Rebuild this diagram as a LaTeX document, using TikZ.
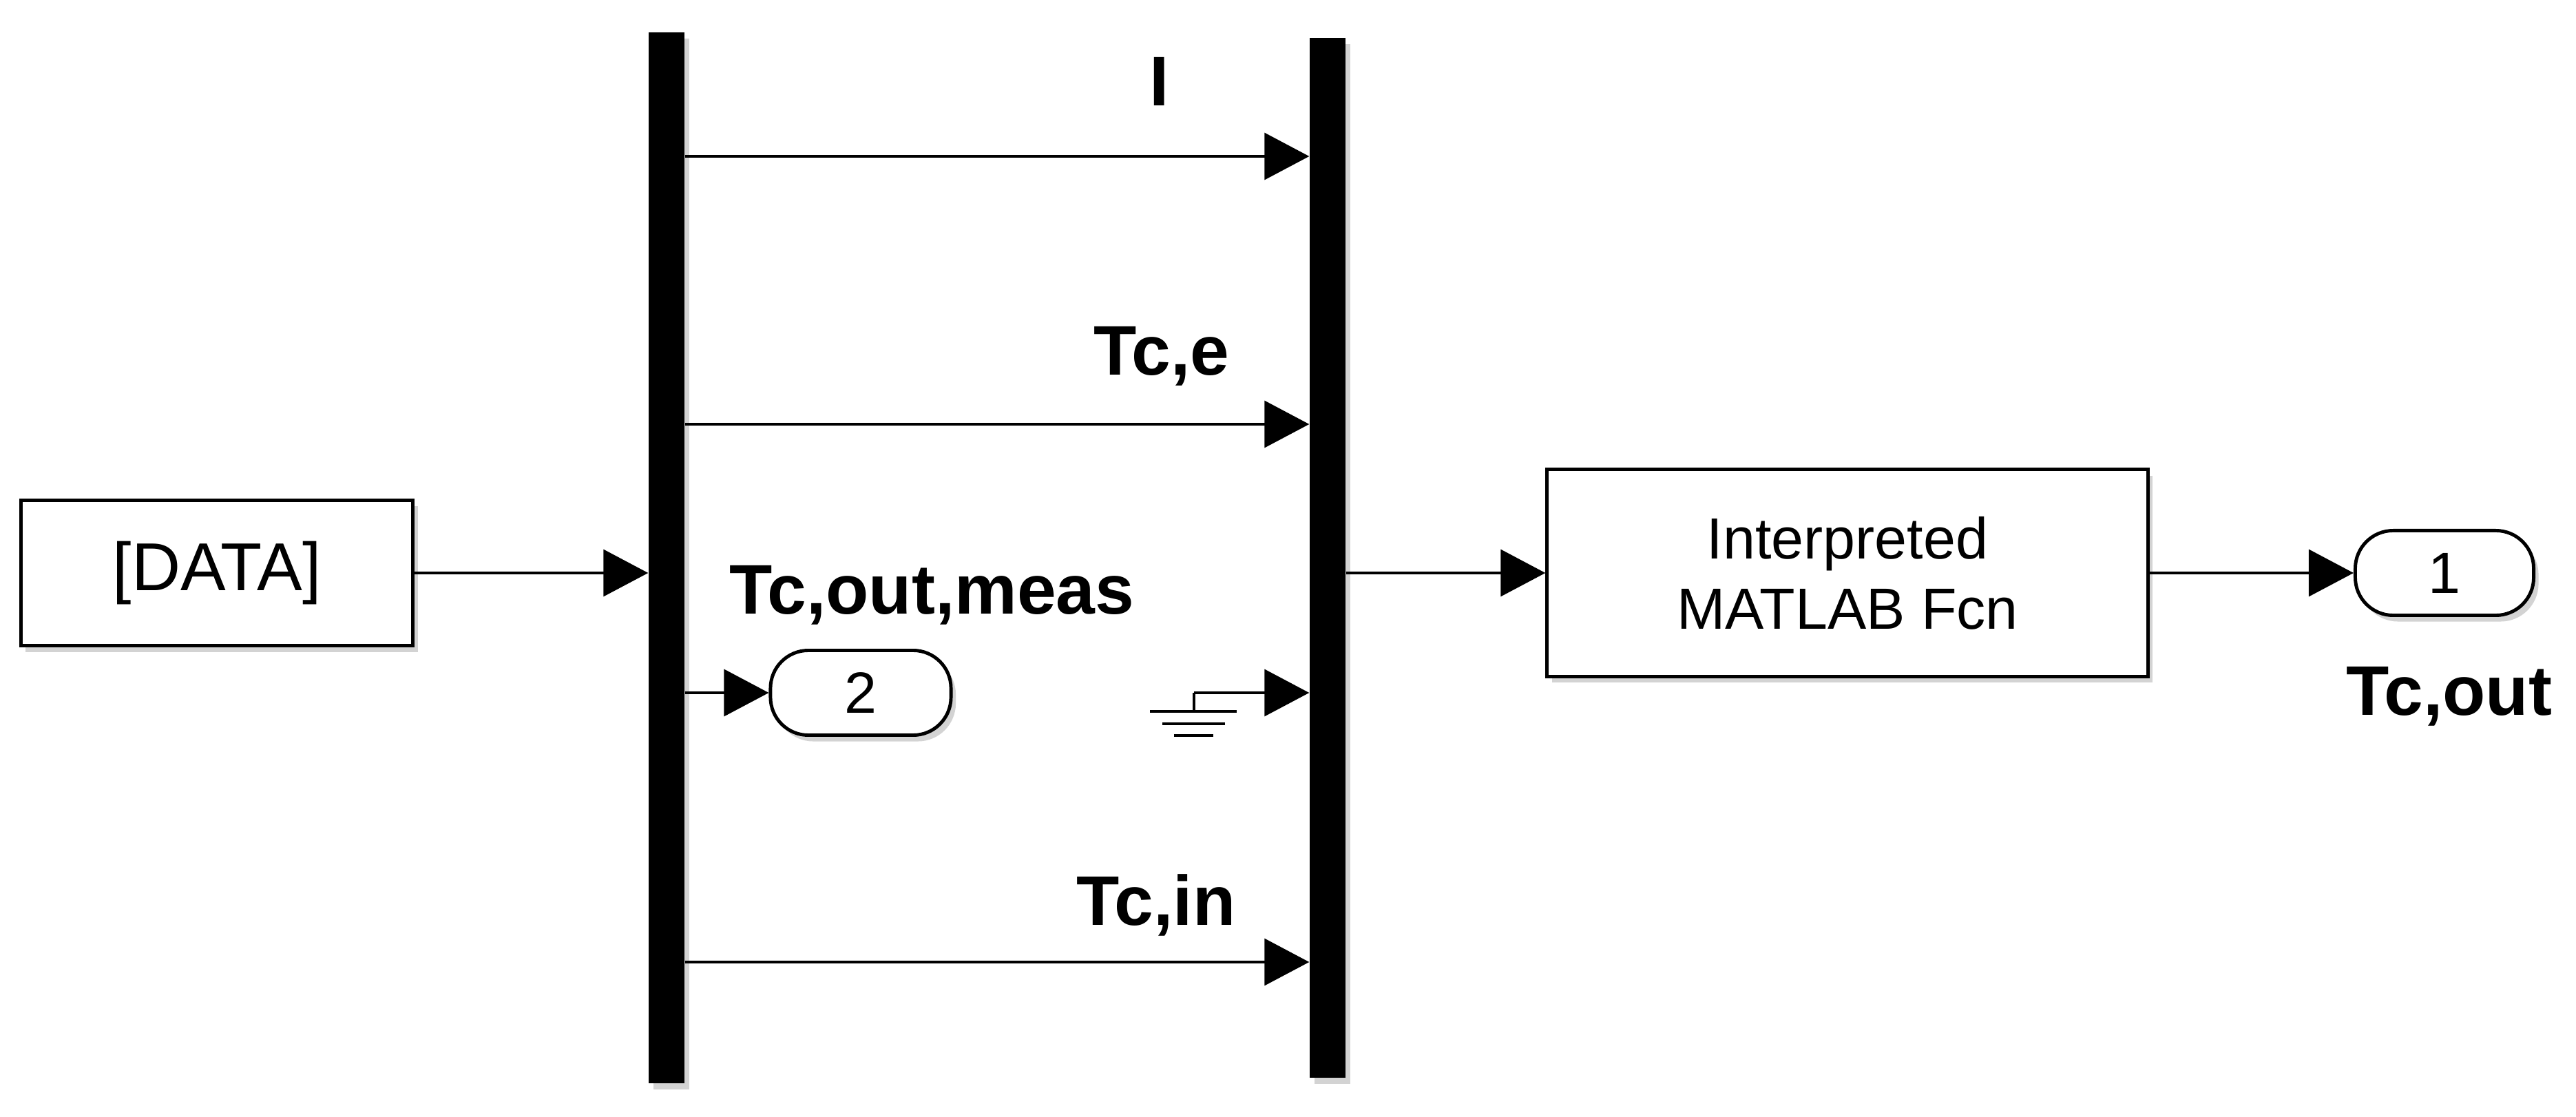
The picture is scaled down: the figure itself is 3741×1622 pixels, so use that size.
\documentclass[tikz,border=0pt]{standalone}
\usepackage{fontspec}
\setmainfont{Liberation Sans}
\usetikzlibrary{positioning, arrows.meta, shadows}
\definecolor{shadegray}{RGB}{110, 110, 110}

\tikzset{
    sig/.style={line width=0.95pt, -{Triangle[length=6.5mm, width=6.8mm]}},
    wire/.style={line width=0.95pt},
    softshadow/.style={drop shadow={shadow xshift=0.07cm, shadow yshift=-0.09cm,
        opacity=0.3, fill=shadegray}},
    block/.style={draw, line width=1.4pt, fill=white, inner sep=0pt, softshadow},
    busbar/.style={fill=black, inner sep=0pt, minimum width=0.52cm, softshadow},
    port/.style={block, rounded corners=0.55cm, minimum height=1.23cm,
        font=\fontsize{24}{29}\selectfont},
    signame/.style={font=\fontsize{29}{35}\selectfont\bfseries, inner sep=0pt},
}

\begin{document}
\begin{tikzpicture}[x=0.01cm, y=-0.01cm]
    \fill[white] (0,0) rectangle (3741,1622);

    % blocks
    \node[block, minimum width=5.69cm, minimum height=2.11cm,
        font=\fontsize{28}{32}\selectfont] (data) at (315,832) {[DATA]};
    \node[busbar, minimum height=15.26cm] (demux) at (968,810) {};
    \node[busbar, minimum height=15.10cm] (mux) at (1928,810) {};
    \node[port, minimum width=2.62cm] (port2) at (1250,1006) {2};
    \node[block, minimum width=8.72cm, minimum height=3.00cm, align=center,
        font=\fontsize{24}{29}\selectfont] (fcn) at (2683,832)
        {Interpreted\\MATLAB Fcn};
    \node[port, minimum width=2.59cm] (port1) at (3550,832) {1};

    % signal names
    \node[signame, anchor=base] (nameI) at (1684,154) {I};
    \node[signame, anchor=base west] (nameTce) at (1588,545) {Tc,e};
    \node[signame, anchor=base west] (nameTcmeas) at (1059,892) {Tc,out,meas};
    \node[signame, anchor=base east] (nameTcin) at (1795,1343) {Tc,in};
    \node[signame, anchor=base west] (nameTcout) at (3407,1038) {Tc,out};

    % rows between the two bars
    \coordinate (rowI) at (0,227);
    \coordinate (rowTce) at (0,616);
    \coordinate (rowTcin) at (0,1397);
    \coordinate (gnd) at (1734,1006);

    \draw[sig] (data.east) -- (data.east -| demux.west);
    \draw[sig] (demux.east |- rowI) -- (mux.west |- rowI);
    \draw[sig] (demux.east |- rowTce) -- (mux.west |- rowTce);
    \draw[sig] (demux.east |- port2.west) -- (port2.west);
    \draw[sig] (demux.east |- rowTcin) -- (mux.west |- rowTcin);
    \draw[sig] (gnd) -- (mux.west |- gnd);
    \draw[sig] (mux.east |- fcn.west) -- (fcn.west);
    \draw[sig] (fcn.east) -- (port1.west);

    % ground
    \draw[wire] (gnd) -- ++(0,27);
    \draw[line width=1.1pt] (1670,1033) -- (1796,1033)
        (1688,1051) -- (1779,1051)
        (1705,1068) -- (1762,1068);
\end{tikzpicture}
\end{document}
